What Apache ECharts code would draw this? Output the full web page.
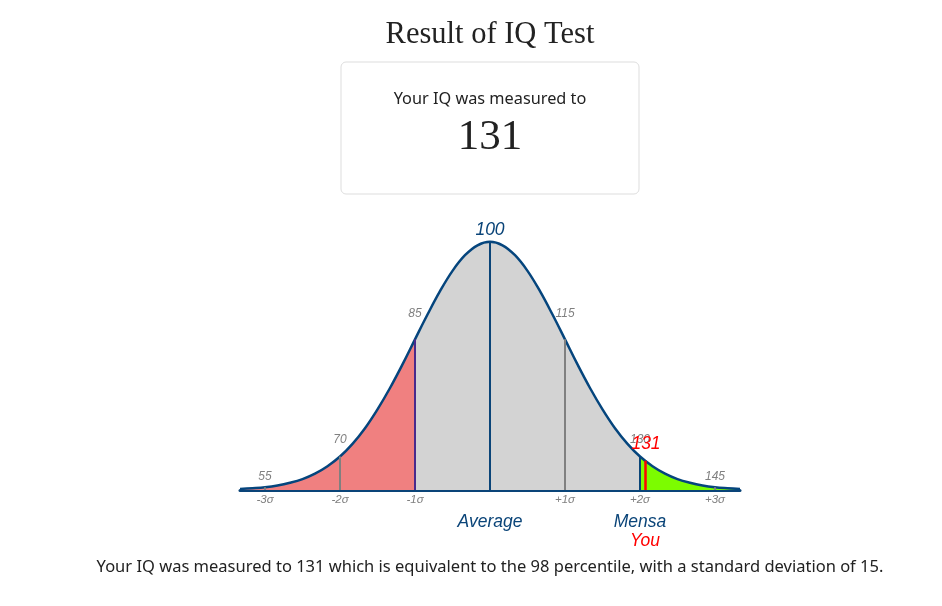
<!DOCTYPE html>
<html>
<head>
<meta charset="utf-8">
<script src="https://cdn.jsdelivr.net/npm/echarts@6/dist/echarts.min.js"></script>
<style>
html,body{margin:0;padding:0;background:#fff;}
#chart{width:942px;height:606px;}
</style>
</head>
<body>
<div id="chart"></div>
<script>
// IQ values along the curve (every 2.5 points) and relative curve heights (peak = 100)
var curveIQ = [50,52.5,55,57.5,60,62.5,65,67.5,70,72.5,75,77.5,80,82.5,85,87.5,90,92.5,95,97.5,100,
               102.5,105,107.5,110,112.5,115,117.5,120,122.5,125,127.5,130,132.5,135,137.5,140,142.5,145,147.5,150];
var curveHeight = [0.4,0.7,1.1,1.8,2.9,4.4,6.6,9.6,13.5,18.6,24.9,32.5,41.1,50.6,60.7,70.7,80.1,88.3,94.6,98.6,100,
                   98.6,94.6,88.3,80.1,70.7,60.7,50.6,41.1,32.5,24.9,18.6,13.5,9.6,6.6,4.4,2.9,1.8,1.1,0.7,0.4];

// marker lines
var markerIQ = [55,70,85,100,115,130,145];
var markerColor = ['#808080','#808080','#4a2a8c','#0a4478','#808080','#0a4478','#808080'];
var youIQ = 131;
var youHeight = 11.8;

// small grey value labels above the curve
var valueLabelIQ = [55,70,85,115,130,145];
var valueLabelY = [5.4,20.3,71.2,71.2,20.3,5.4];
var meanLabelY = 104.6;
var youLabelY = 18.6;

// sigma tick labels
var sigmaIQ = [55,70,85,115,130,145];
var sigmaText = ['-3σ','-2σ','-1σ','+1σ','+2σ','+3σ'];

// bottom captions
var captionIQ = [100,130,131];
var captionText = ['Average','Mensa','You'];
var captionY = [-12.9,-12.9,-20.7];
var captionColor = ['#0a4478','#0a4478','#ff0000'];

var regionBreaks = [50,85,130,150];
var regionColors = ['#f08080','#d3d3d3','#7cfc00'];

var curveData = curveIQ.map(function(x,i){return [x,curveHeight[i]];});
function heightAt(x){ return curveHeight[curveIQ.indexOf(x)]; }

var markLines = markerIQ.map(function(x,i){
  return [{coord:[x,0],lineStyle:{color:markerColor[i],width:2,type:'solid'}},{coord:[x,heightAt(x)]}];
});
markLines.push([{coord:[youIQ,0],lineStyle:{color:'#ff0000',width:2.5,type:'solid'}},{coord:[youIQ,youHeight]}]);

var LF = 'Liberation Sans';
var labelData = valueLabelIQ.map(function(x,i){
  return {value:[x,valueLabelY[i]],label:{show:true,formatter:String(x),color:'#808080',fontSize:12,fontStyle:'italic',fontFamily:LF}};
});
labelData.push({value:[100,meanLabelY],label:{show:true,formatter:'100',color:'#0a4478',fontSize:17.5,fontStyle:'italic',fontFamily:LF}});
labelData.push({value:[youIQ,youLabelY],label:{show:true,formatter:String(youIQ),color:'#ff0000',fontSize:17.5,fontStyle:'italic',fontFamily:LF,offset:[1,0]}});

var captionData = captionIQ.map(function(x,i){
  return {value:[x,captionY[i]],label:{show:true,formatter:captionText[i],color:captionColor[i],fontSize:17.5,fontStyle:'italic',fontFamily:LF}};
});

var pieces = [];
for (var i=0;i<regionColors.length;i++){
  pieces.push({gte:regionBreaks[i],lt:regionBreaks[i+1],color:regionColors[i]});
}

var CX = 490;
var chart = echarts.init(document.getElementById('chart'));
chart.setOption({
  animation:false,
  graphic:[
    {type:'rect',shape:{x:341,y:62,width:298,height:132,r:5},style:{fill:'none',stroke:'#dddddd',lineWidth:1},z:-1},
    {type:'text',x:CX,y:35,style:{text:'Result of IQ Test',font:'normal 30.5px "Liberation Serif"',fill:'#222',align:'center',verticalAlign:'middle'}},
    {type:'text',x:CX,y:99,style:{text:'Your IQ was measured to',font:'normal 16.3px "Noto Sans"',fill:'#222',align:'center',verticalAlign:'middle'}},
    {type:'text',x:CX,y:138,style:{text:String(youIQ),font:'normal 43px "Liberation Serif"',fill:'#222',align:'center',verticalAlign:'middle'}},
    {type:'text',x:CX,y:567,style:{text:'Your IQ was measured to '+youIQ+' which is equivalent to the 98 percentile, with a standard deviation of 15.',font:'normal 16.5px "Noto Sans"',fill:'#222',align:'center',verticalAlign:'middle'}}
  ],
  grid:{left:240,right:202,top:217,bottom:116},
  xAxis:{type:'value',min:50,max:150,
    axisLine:{show:true,lineStyle:{color:'#0a4478',width:3}},
    axisTick:{show:false},splitLine:{show:false},
    axisLabel:{show:true,customValues:sigmaIQ,margin:4,color:'#808080',fontSize:11.5,fontStyle:'italic',fontFamily:LF,
      formatter:function(v){var k=sigmaIQ.indexOf(v);return k>=0?sigmaText[k]:'';}}},
  yAxis:{type:'value',min:0,max:110,show:false,splitLine:{show:false}},
  visualMap:{show:false,type:'piecewise',dimension:0,seriesIndex:0,pieces:pieces},
  series:[
    {type:'line',data:curveData,smooth:0.4,symbol:'none',lineStyle:{width:0,opacity:0},areaStyle:{opacity:1},z:1},
    {type:'line',data:curveData,smooth:0.4,symbol:'none',lineStyle:{color:'#05457d',width:2.5},z:3,
      markLine:{silent:true,symbol:'none',label:{show:false},data:markLines}},
    {type:'scatter',data:labelData,symbolSize:0,clip:false,z:5,itemStyle:{opacity:1},label:{position:'inside'}},
    {type:'scatter',data:captionData,symbolSize:0,clip:false,z:5,itemStyle:{opacity:1},label:{position:'inside'}}
  ]
});
</script>
</body>
</html>
